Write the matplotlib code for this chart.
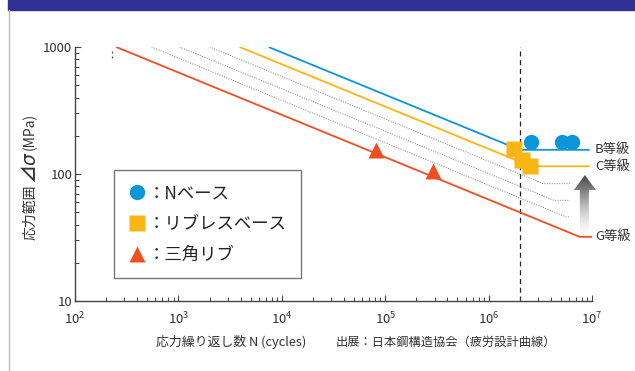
import matplotlib
matplotlib.use("Agg")
import matplotlib.pyplot as plt
import numpy as np
from matplotlib.patches import Rectangle, Polygon
from matplotlib.lines import Line2D
from matplotlib.ticker import FixedLocator, LogLocator, NullFormatter, FuncFormatter

plt.rcParams['font.family'] = ['Noto Sans CJK JP', 'DejaVu Sans']
plt.rcParams['mathtext.default'] = 'regular'

# ---- Data -----------------------------------------------------------------
# design S-N curves (JSSC): start at 1000 MPa, knee, end
GRADES      = ["B", "C", "D", "E", "F", "G"]
N_START     = [7450, 3906, 2000, 1024, 550, 250]
N_KNEE      = [2.0e6, 2.57e6, 3.37e6, 4.3e6, 5.6e6, 7.6e6]
S_KNEE      = [155, 115, 84, 62, 46, 32]
N_END       = [9.5e6, 9.5e6, 6.1e6, 6.1e6, 6.1e6, 1.0e7]
LABELED     = {"B": "B等級", "C": "C等級", "G": "G等級"}

# test results
N_BASE_N    = [2.57e6, 5.1e6, 6.4e6]
N_BASE_S    = [178, 178, 178]
RIBLESS_N   = [1.76e6, 2.1e6, 2.5e6]
RIBLESS_S   = [157, 129, 116]
TRI_N       = [8.15e4, 2.9e5]
TRI_S       = [154, 106]

BLUE   = "#0a96d8"
ORANGE = "#fbb515"
RED    = "#f04e23"
GRAY   = "#999999"
COLORS = {"B": BLUE, "C": ORANGE, "G": RED}
TXT    = "#333333"

# ---- Figure ---------------------------------------------------------------
fig = plt.figure(figsize=(6.35, 3.71), dpi=100)
fig.patches.append(Rectangle((8/635, 1 - 10/371), 1, 10/371,
                             transform=fig.transFigure, color="#2e3192", zorder=0))
fig.add_artist(Line2D([8.5/635, 8.5/635], [0, 1 - 10/371], transform=fig.transFigure,
                      color="#bbbbbb", lw=1))

ax = fig.add_axes([75/635, 1 - 301/371, 517/635, 254/371])
ax.set_xscale("log"); ax.set_yscale("log")
ax.set_xlim(1e2, 1e7); ax.set_ylim(10, 1000)

for g, ns, nk, sk, ne in zip(GRADES, N_START, N_KNEE, S_KNEE, N_END):
    xs = [ns, nk, ne]; ys = [1000, sk, sk]
    if g in COLORS:
        ax.plot(xs, ys, color=COLORS[g], lw=1.3, solid_capstyle="butt", zorder=3)
        ax.text(1.07e7, sk, LABELED[g], fontsize=9.5, color=TXT,
                va="center", ha="left", clip_on=False)
    else:
        ax.plot(xs, ys, color=GRAY, lw=0.8, ls=(0, (1, 1.2)), zorder=2)

ax.axvline(2e6, color="#222222", lw=0.9, ls=(0, (4, 3)), zorder=1)
# small dashes near the top-left
ax.plot([228, 228], [820, 990], color="#444444", lw=0.9, ls=(0, (1.5, 2.5)), clip_on=False)

ax.plot(N_BASE_N, N_BASE_S, "o", color=BLUE, ms=11, mec="none", zorder=5)
ax.plot(RIBLESS_N, RIBLESS_S, "s", color=ORANGE, ms=11, mec="none", zorder=5)
ax.plot(TRI_N, TRI_S, "^", color=RED, ms=11, mec="none", zorder=5)

# gradient arrow
aax = ax.inset_axes([0.965, 0.272, 0.0426, 0.224])
aax.set_xlim(0, 1); aax.set_ylim(0, 1); aax.axis("off")
aax.patch.set_alpha(0)
poly = Polygon([(0.27, 0), (0.68, 0), (0.68, 0.737), (1, 0.737), (0.5, 1),
                (0, 0.737), (0.27, 0.737)], closed=True, fc="none", ec="none")
aax.add_patch(poly)
grad = np.linspace(0, 1, 100).reshape(-1, 1)
im = aax.imshow(grad, extent=[0, 1, 0, 1], origin="lower", cmap="Greys",
                vmin=-0.05, vmax=1.3, aspect="auto")
im.set_clip_path(poly)

# axes styling
for s in ["top", "right"]:
    ax.spines[s].set_visible(False)
for s in ["left", "bottom"]:
    ax.spines[s].set_color("#444444"); ax.spines[s].set_linewidth(1)
ax.xaxis.set_major_locator(FixedLocator([1e2, 1e3, 1e4, 1e5, 1e6, 1e7]))
ax.xaxis.set_minor_locator(LogLocator(base=10, subs=np.arange(2, 10)))
ax.xaxis.set_minor_formatter(NullFormatter())
ax.xaxis.set_major_formatter(FuncFormatter(lambda v, p: r"$10^{%d}$" % round(np.log10(v))))
ax.yaxis.set_major_locator(FixedLocator([10, 100, 1000]))
ax.yaxis.set_minor_locator(LogLocator(base=10, subs=np.arange(2, 10)))
ax.yaxis.set_minor_formatter(NullFormatter())
ax.yaxis.set_major_formatter(FuncFormatter(lambda v, p: "%d" % v))
ax.tick_params(which="both", direction="in", colors="#444444", labelcolor=TXT,
               labelsize=9.5)
ax.tick_params(which="major", length=4, width=0.8)
ax.tick_params(which="minor", length=3, width=0.7)
ax.tick_params(axis="x", pad=7)
ax.tick_params(axis="y", pad=2)

# legend
handles = [
    Line2D([], [], marker="o", color=BLUE, ls="none", ms=11, mec="none"),
    Line2D([], [], marker="s", color=ORANGE, ls="none", ms=11, mec="none"),
    Line2D([], [], marker="^", color=RED, ls="none", ms=11, mec="none"),
]
labels = ["：Nベース", "：リブレスベース", "：三角リブ"]
leg = ax.legend(handles, labels, loc="lower left", bbox_to_anchor=(0.075, 0.09),
                fontsize=12.5, frameon=True, fancybox=False, handletextpad=0.05,
                labelspacing=0.75, borderpad=0.8, handlelength=1.1,
                borderaxespad=0)
leg.get_frame().set_edgecolor("#555555")
leg.get_frame().set_linewidth(1)
for t in leg.get_texts():
    t.set_color("#222222")

# axis labels
fig.text(231/635, 1 - 342/371, "応力繰り返し数 N (cycles)", fontsize=9.3, color=TXT,
         ha="center", va="center")
fig.text(446/635, 1 - 342/371, "出展：日本鋼構造協会（疲労設計曲線）", fontsize=8.8,
         color=TXT, ha="center", va="center")
fig.text(30/635, 1 - 212/371, "応力範囲", fontsize=10, color=TXT,
         rotation=90, ha="center", va="center")
fig.text(30/635, 1 - 167/371, r"⊿$\mathit{\sigma}$", fontsize=13.5, color=TXT,
         fontweight="bold", rotation=90, ha="center", va="center")
fig.text(30/635, 1 - 131/371, "(MPa)", fontsize=10, color=TXT,
         rotation=90, ha="center", va="center")

fig.savefig("out.png", dpi=100)
